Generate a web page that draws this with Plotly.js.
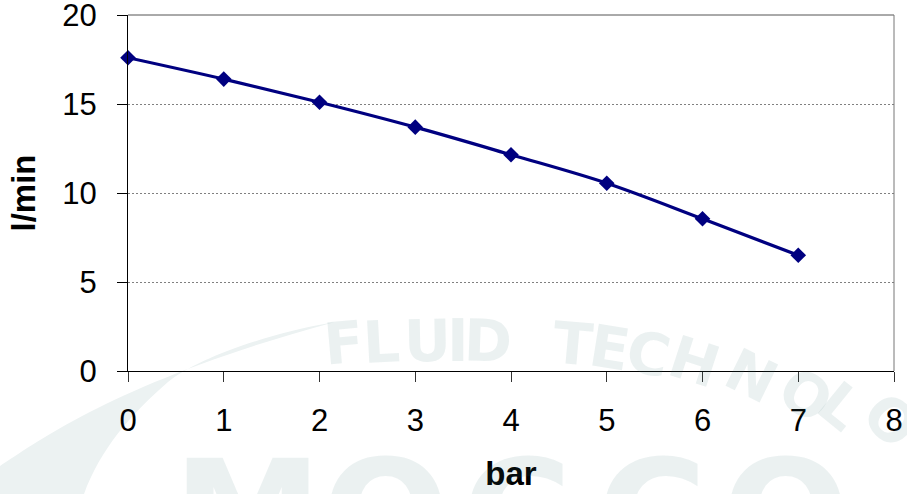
<!DOCTYPE html>
<html><head><meta charset="utf-8">
<script src="https://cdn.plot.ly/plotly-3.0.1.min.js"></script>
<style>html,body{margin:0;padding:0;background:#fff}</style>
</head><body><div id="chart" style="width:907px;height:494px"></div>
<script>
// ---- chart data ----
const pressureBar = [0, 1, 2, 3, 4, 5, 6, 7];
const flowLpm = [17.6, 16.4, 15.1, 13.7, 12.15, 10.55, 8.55, 6.5];
const xTickVals = [0, 1, 2, 3, 4, 5, 6, 7, 8];
const yTickVals = [0, 5, 10, 15, 20];
const xTitle = 'bar';
const yTitle = 'l/min';

// ---- background watermark text ----
const wmLetters = ['F','L','U','I','D','T','E','C','H','N','O','L','O'];
const wmBig = ['M','O','C','C','O'];

// layout geometry
const W = 907, H = 494, ML = 128, MR = 13, MT = 15, MB = 123;
const PW = W - ML - MR, PH = H - MT - MB;
function px(x){ return (x - ML) / PW; }
function py(y){ return (H - MB - y) / PH; }
function P(x, y){ return px(x).toFixed(4) + ',' + py(y).toFixed(4); }

// watermark placement (pixels): x, y, angle
const wmPos = [[344,343,-5],[381,342,-3],[427,341,-1],[458,341,0],[488,341,2],
  [573,344,5],[610,348,9],[648,354,13],[694,362,18],[751,376,26],[805,395,33],[840,406,39],[890,420,46]];
const wmBigX = [247, 386, 517, 652, 786];

const wmColor = 'rgba(60,120,120,0.1)';
const annotations = [];
wmLetters.forEach((ch, i) => {
  const p = wmPos[i];
  annotations.push({text: ch, xref: 'paper', yref: 'paper', x: px(p[0]), y: py(p[1]),
    xanchor: 'center', yanchor: 'middle', showarrow: false, textangle: p[2],
    font: {family: 'DejaVu Sans', size: 58, weight: 'bold', color: wmColor}});
});
wmBig.forEach((ch, i) => {
  annotations.push({text: ch, xref: 'paper', yref: 'paper', x: px(wmBigX[i]), y: py(515),
    xanchor: 'center', yanchor: 'middle', showarrow: false,
    font: {family: 'DejaVu Sans', size: 150, weight: 'bold', color: wmColor}});
});

const swoosh = 'M' + P(0,466) + ' C' + P(40,440) + ' ' + P(120,380) + ' ' + P(335,322) +
  ' C' + P(260,335) + ' ' + P(195,360) + ' ' + P(168,382) +
  ' C' + P(130,415) + ' ' + P(100,450) + ' ' + P(84,494) + ' L' + P(0,494) + ' Z';

const shapes = [
  {type: 'path', xref: 'paper', yref: 'paper', path: swoosh, fillcolor: '#ecf2f2', line: {width: 0}, layer: 'below'},
  {type: 'line', xref: 'paper', yref: 'paper', x0: 0, x1: 1, y0: 1, y1: 1, line: {color: '#555', width: 1}},
  {type: 'line', xref: 'paper', yref: 'paper', x0: 1, x1: 1, y0: 0, y1: 1, line: {color: '#777', width: 1}}
];

const trace = {
  x: pressureBar, y: flowLpm, type: 'scatter', mode: 'lines+markers',
  line: {color: '#000080', width: 3.2, shape: 'spline', smoothing: 1},
  marker: {symbol: 'diamond', size: 12, color: '#000080'},
  hoverinfo: 'skip', cliponaxis: false
};

const layout = {
  width: W, height: H,
  margin: {l: ML, r: MR, t: MT, b: MB, pad: 0},
  paper_bgcolor: '#ffffff', plot_bgcolor: 'rgba(0,0,0,0)',
  font: {family: 'Liberation Sans, Arial, sans-serif', color: '#000'},
  showlegend: false,
  xaxis: {range: [0, 8], tickvals: xTickVals, ticktext: xTickVals.map(String),
    showgrid: false, zeroline: false, showline: true, linecolor: '#000', linewidth: 1,
    ticks: 'outside', ticklen: 10, tickcolor: '#333', tickwidth: 1,
    tickfont: {size: 31, family: 'Liberation Sans, Arial, sans-serif', color: '#000'},
    ticklabelstandoff: 12, ticklabeloverflow: 'allow',
    title: {text: xTitle, font: {size: 33, weight: 'bold', family: 'Liberation Sans, Arial, sans-serif'}, standoff: 24}},
  yaxis: {range: [0, 20], tickvals: yTickVals, ticktext: yTickVals.map(String),
    showgrid: true, gridcolor: '#808080', griddash: '2px,2px', gridwidth: 1,
    zeroline: false, showline: true, linecolor: '#000', linewidth: 1,
    ticks: 'outside', ticklen: 10, tickcolor: '#000', tickwidth: 1,
    tickfont: {size: 31, family: 'Liberation Sans, Arial, sans-serif', color: '#000'},
    ticklabelstandoff: 14, ticklabeloverflow: 'allow',
    title: {text: yTitle, font: {size: 33, weight: 'bold', family: 'Liberation Sans, Arial, sans-serif'}, standoff: 16}},
  shapes: shapes,
  annotations: annotations
};

Plotly.newPlot('chart', [trace], layout, {staticPlot: true, displayModeBar: false});
</script>
</body></html>
